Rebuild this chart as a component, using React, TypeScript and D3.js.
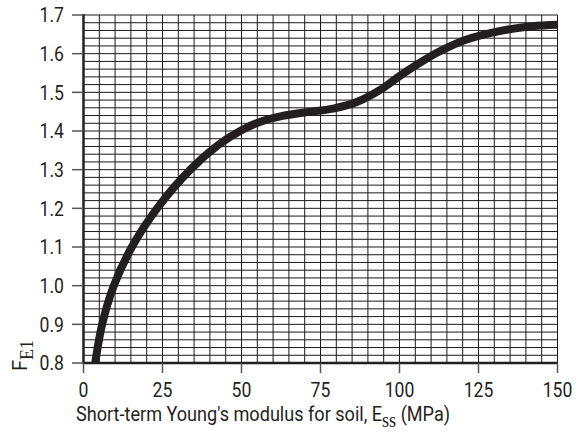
import React from "react";
import * as d3 from "d3";

const curveX = [3.7, 5.9, 9.6, 15.3, 23.3, 33.8, 43, 50, 56, 63, 70, 79, 86.5, 94, 100, 106, 112, 121, 132, 142, 150];
const curveY = [0.8, 0.9, 1.0, 1.1, 1.2, 1.3, 1.366, 1.402, 1.424, 1.439, 1.448, 1.458, 1.475, 1.507, 1.542, 1.574, 1.603, 1.636, 1.659, 1.671, 1.675];
const xTicks = [0, 25, 50, 75, 100, 125, 150];
const yTicks = [0.8, 0.9, 1.0, 1.1, 1.2, 1.3, 1.4, 1.5, 1.6, 1.7];
const xGrid = d3.range(0, 151, 5);
const yGrid = d3.range(0, 46).map((i) => 0.8 + i * 0.02);

const SANS = "'Liberation Sans Narrow', 'Arial Narrow', 'Roboto', sans-serif";
const SERIF = "'Liberation Serif', 'Times New Roman', serif";
const INK = "#231f20";
const SX = 0.88;

export default function App() {
  const x = d3.scaleLinear().domain([0, 150]).range([83.5, 557.5]);
  const y = d3.scaleLinear().domain([0.8, 1.7]).range([363, 15]);
  const pts = curveX.map((v, i) => [v, curveY[i]] as [number, number]);
  const line = d3
    .line<[number, number]>()
    .x((d) => x(d[0]))
    .y((d) => y(d[1]))
    .curve(d3.curveCatmullRom.alpha(0.5));

  return (
    <svg width={582} height={436} style={{ position: "absolute", left: 0, top: 0, background: "#fff" }}>
      <defs>
        <clipPath id="plot">
          <rect x={x(0)} y={y(1.7) - 1} width={x(150) - x(0)} height={y(0.8) - y(1.7) + 1} />
        </clipPath>
      </defs>
      <g>
        {xGrid.map((v) => (
          <line key={"vx" + v} x1={x(v)} x2={x(v)} y1={y(0.8)} y2={y(1.7)} stroke="#1a1a1a" strokeWidth={1} />
        ))}
        {yGrid.map((v, i) => (
          <line key={"hy" + i} x1={x(0)} x2={x(150)} y1={y(v)} y2={y(v)} stroke="#1a1a1a" strokeWidth={1} />
        ))}
      </g>
      <path d={line(pts) || ""} fill="none" stroke={INK} strokeWidth={8} clipPath="url(#plot)" />
      <line x1={x(0)} x2={x(0)} y1={y(1.7) - 1} y2={y(0.8) + 1} stroke={INK} strokeWidth={2.5} />
      <line x1={x(0) - 1} x2={x(150)} y1={y(0.8)} y2={y(0.8)} stroke={INK} strokeWidth={2.5} />
      {yTicks.map((v) => (
        <g key={"yt" + v}>
          <line x1={72} x2={x(0)} y1={y(v)} y2={y(v)} stroke="#555" strokeWidth={1.5} />
          <text transform={`translate(64,${y(v)}) scale(${SX},1)`} dy="0.36em" textAnchor="end" fontFamily={SANS} fontSize={20} fill={INK}>
            {v.toFixed(1)}
          </text>
        </g>
      ))}
      {xTicks.map((v) => (
        <g key={"xt" + v}>
          <line x1={x(v)} x2={x(v)} y1={y(0.8)} y2={373} stroke="#555" strokeWidth={1.5} />
          <text transform={`translate(${x(v)},397) scale(${SX},1)`} textAnchor="middle" fontFamily={SANS} fontSize={20} fill={INK}>
            {v}
          </text>
        </g>
      ))}
      <text transform={`translate(76,421) scale(0.905,1)`} fontFamily={SANS} fontSize={20} fill={INK}>
        Short-term Young's modulus for soil, E
        <tspan fontFamily={SERIF} fontSize={20} dy={6}>ss</tspan>
        <tspan dy={-6}> (MPa)</tspan>
      </text>
      <text transform="translate(27,371) rotate(-90)" fontFamily={SANS} fontSize={20} fill={INK}>
        F
        <tspan fontFamily={SERIF} fontSize={18} dy={6}>E1</tspan>
      </text>
    </svg>
  );
}
